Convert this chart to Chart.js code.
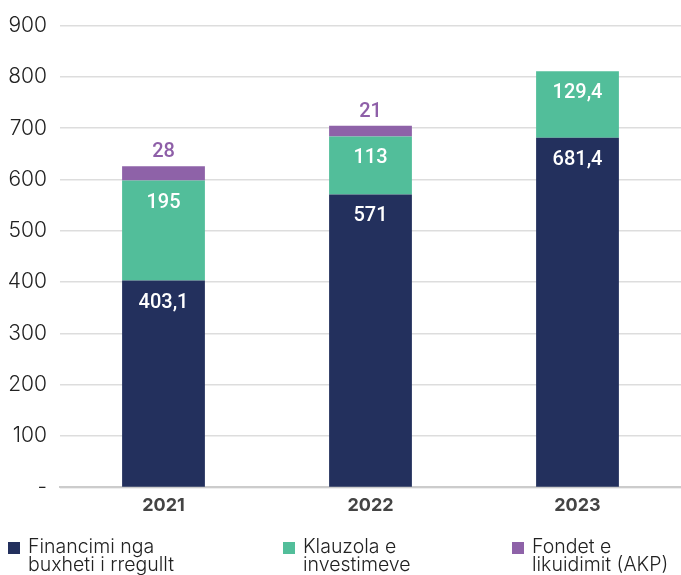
<!DOCTYPE html>
<html>
<head>
<meta charset="utf-8">
<script src="https://cdn.jsdelivr.net/npm/chart.js@4"></script>
<style>
  html, body { margin: 0; padding: 0; background: #fff; }
  #wrap { position: relative; width: 681px; height: 575px; overflow: hidden; }
  canvas { position: absolute; left: 0; top: 0; }
  .legend { position: absolute; top: 537px; font-family: Inter, "Open Sans", sans-serif; font-weight: 300; font-size: 19.5px; line-height: 18px; color: #222; }
  .legend .box { position: absolute; left: 0; top: 5px; width: 12px; height: 12px; }
  .legend .txt { position: absolute; left: 20px; top: 0; white-space: nowrap; }
</style>
</head>
<body>
<div id="wrap">
  <canvas id="c" width="681" height="575"></canvas>
</div>
<script>
const categories = ["2021", "2022", "2023"];
const seriesNames = [["Financimi nga", "buxheti i rregullt"], ["Klauzola e", "investimeve"], ["Fondet e", "likuidimit (AKP)"]];
const financimi = [403.1, 571, 681.4];
const klauzola = [195, 113, 129.4];
const fondet = [28, 21, null];
const yTicks = [0, 100, 200, 300, 400, 500, 600, 700, 800, 900];
const colors = ["#23305d", "#52be9a", "#8e62a8"];

const fmt = v => String(v).replace('.', ',');

const labelPlugin = {
  id: 'barLabels',
  afterDatasetsDraw(chart) {
    const ctx = chart.ctx;
    ctx.save();
    ctx.textAlign = 'center';
    ctx.textBaseline = 'middle';
    ctx.font = '500 20px Roboto, sans-serif';
    chart.data.datasets.forEach((ds, di) => {
      const meta = chart.getDatasetMeta(di);
      meta.data.forEach((el, i) => {
        const v = ds.data[i];
        if (v === null || v === undefined) return;
        if (di < 2) {
          ctx.fillStyle = '#ffffff';
          ctx.fillText(fmt(v), el.x, el.y + 22);
        } else {
          ctx.fillStyle = '#8e5fa8';
          ctx.fillText(fmt(v), el.x, el.y - 14);
        }
      });
    });
    ctx.restore();
  }
};

new Chart(document.getElementById('c'), {
  type: 'bar',
  data: {
    labels: categories,
    datasets: [
      { label: seriesNames[0].join(' '), data: financimi, backgroundColor: colors[0] },
      { label: seriesNames[1].join(' '), data: klauzola, backgroundColor: colors[1] },
      { label: seriesNames[2].join(' '), data: fondet, backgroundColor: colors[2] }
    ]
  },
  options: {
    responsive: false,
    animation: false,
    layout: { padding: { top: 14, right: 0, left: 0, bottom: 52 } },
    datasets: { bar: { barPercentage: 0.4, categoryPercentage: 1.0 } },
    plugins: { legend: { display: false }, tooltip: { enabled: false } },
    scales: {
      x: {
        stacked: true,
        grid: { display: false, drawTicks: false },
        border: { display: true, color: '#cccccc', width: 2 },
        ticks: { color: '#444', font: { family: 'Inter, sans-serif', weight: 'bold', size: 18 }, padding: 7 }
      },
      y: {
        stacked: true,
        min: 0, max: 900,
        afterBuildTicks(axis) { axis.ticks = yTicks.map(v => ({ value: v })); },
        afterFit(axis) { axis.width = 60; },
        grid: { color: '#dddddd', lineWidth: 1.5, drawTicks: false },
        border: { display: false },
        ticks: {
          color: '#222',
          padding: 13,
          font: { family: 'Inter, sans-serif', weight: 300, size: 21 },
          callback: v => v === 0 ? '-' : String(v)
        }
      }
    }
  },
  plugins: [labelPlugin]
});

const wrap = document.getElementById('wrap');
const lx = [8, 283, 512];
seriesNames.forEach((n, i) => {
  const d = document.createElement('div');
  d.className = 'legend';
  d.style.left = lx[i] + 'px';
  d.innerHTML = '<div class="box" style="background:' + colors[i] + '"></div><div class="txt">' + n.join('<br>') + '</div>';
  wrap.appendChild(d);
});
</script>
</body>
</html>
